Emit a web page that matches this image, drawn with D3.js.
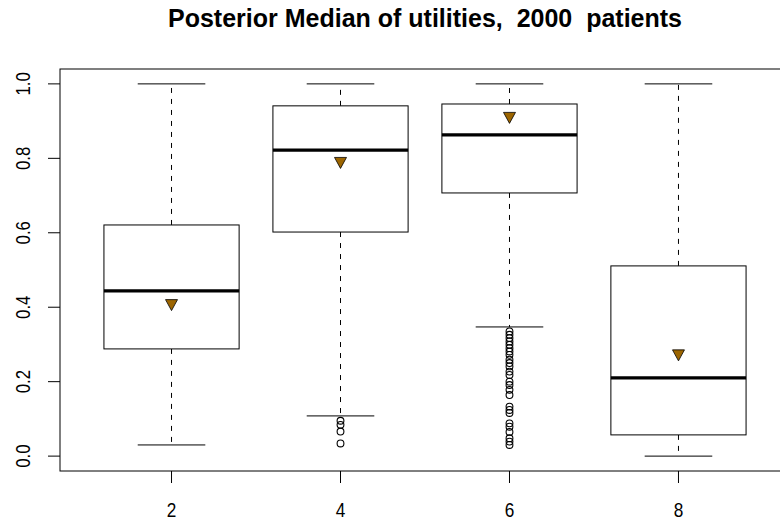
<!DOCTYPE html>
<html>
<head>
<meta charset="utf-8">
<script src="https://cdn.jsdelivr.net/npm/d3@7"></script>
<style>
  html, body { margin: 0; padding: 0; background: #fff; }
  svg { display: block; font-family: "Liberation Sans", Arial, sans-serif; }
</style>
</head>
<body>
<svg id="chart" width="780" height="524"></svg>
<script>
// Box positions along the x axis
const groups = [2, 4, 6, 8];
// Five-number summaries (lower whisker, Q1, median, Q3, upper whisker)
const lowerWhisker = [0.030, 0.108, 0.347, 0.000];
const q1 = [0.288, 0.602, 0.707, 0.057];
const medians = [0.444, 0.822, 0.863, 0.210];
const q3 = [0.621, 0.941, 0.946, 0.511];
const upperWhisker = [1.000, 1.000, 1.000, 1.000];
// Posterior means, drawn as triangles
const means = [0.407, 0.789, 0.910, 0.272];
// Points beyond the whiskers
const outliers4 = [0.095, 0.084, 0.066, 0.034];
const outliers6 = [0.335, 0.326, 0.317, 0.308, 0.299, 0.290, 0.281, 0.272, 0.259, 0.250,
                   0.241, 0.227, 0.218, 0.200, 0.191, 0.178, 0.164, 0.133, 0.124, 0.116,
                   0.088, 0.079, 0.065, 0.048, 0.039, 0.030];
const outlierSets = [[], outliers4, outliers6, []];
const yTicks = [0, 0.2, 0.4, 0.6, 0.8, 1.0];
const xTicks = [2, 4, 6, 8];
const title = "Posterior Median of utilities,  2000  patients";

const svg = d3.select("#chart");
const plotLeft = 60, plotRight = 790, plotTop = 69, plotBottom = 471;

const x = d3.scaleLinear().domain([0.68, 9.32]).range([plotLeft, plotRight]);
const y = d3.scaleLinear().domain([-0.04, 1.04]).range([plotBottom, plotTop]);
const halfBox = 0.8;

const stats = groups.map((g, i) => ({
  g, lo: lowerWhisker[i], q1: q1[i], med: medians[i], q3: q3[i], hi: upperWhisker[i],
  mean: means[i], out: outlierSets[i]
}));

const plot = svg.append("g");

stats.forEach(s => {
  const cx = x(s.g);
  const bx0 = x(s.g - halfBox), bx1 = x(s.g + halfBox);
  const sx0 = x(s.g - halfBox / 2), sx1 = x(s.g + halfBox / 2);
  const g = plot.append("g");
  // dashed whiskers
  g.append("line").attr("x1", cx).attr("x2", cx).attr("y1", y(s.q3)).attr("y2", y(s.hi))
    .attr("stroke", "#000").attr("stroke-dasharray", "5,6");
  g.append("line").attr("x1", cx).attr("x2", cx).attr("y1", y(s.q1)).attr("y2", y(s.lo))
    .attr("stroke", "#000").attr("stroke-dasharray", "5,6");
  // staples
  g.append("line").attr("x1", sx0).attr("x2", sx1).attr("y1", y(s.hi)).attr("y2", y(s.hi))
    .attr("stroke", "#000");
  g.append("line").attr("x1", sx0).attr("x2", sx1).attr("y1", y(s.lo)).attr("y2", y(s.lo))
    .attr("stroke", "#000");
  // box
  g.append("rect").attr("x", bx0).attr("y", y(s.q3))
    .attr("width", bx1 - bx0).attr("height", y(s.q1) - y(s.q3))
    .attr("fill", "#fff").attr("stroke", "#000");
  // median
  g.append("line").attr("x1", bx0).attr("x2", bx1).attr("y1", y(s.med)).attr("y2", y(s.med))
    .attr("stroke", "#000").attr("stroke-width", 3.2);
  // outliers
  g.selectAll("circle").data(s.out).join("circle")
    .attr("cx", cx).attr("cy", d => y(d)).attr("r", 3.4)
    .attr("fill", "none").attr("stroke", "#000").attr("stroke-width", 1.1);
  // mean triangle (pointing down)
  const my = y(s.mean);
  g.append("path")
    .attr("d", `M${cx - 6},${my - 5} L${cx + 6},${my - 5} L${cx},${my + 6} Z`)
    .attr("fill", "#9c6500").attr("stroke", "#000").attr("stroke-width", 0.8);
});

// frame
svg.append("rect").attr("x", plotLeft).attr("y", plotTop)
  .attr("width", plotRight - plotLeft).attr("height", plotBottom - plotTop)
  .attr("fill", "none").attr("stroke", "#000");

// y axis (labels rotated, slightly condensed)
const yAxis = svg.append("g");
yTicks.forEach(t => {
  yAxis.append("line").attr("x1", plotLeft - 12).attr("x2", plotLeft).attr("y1", y(t)).attr("y2", y(t))
    .attr("stroke", "#000");
  yAxis.append("text")
    .attr("transform", `translate(${30},${y(t)}) rotate(-90) scale(0.8,1)`)
    .attr("text-anchor", "middle").attr("font-size", 21).attr("fill", "#000")
    .text(d3.format(".1f")(t));
});

// x axis
const xAxis = svg.append("g");
xTicks.forEach(t => {
  xAxis.append("line").attr("x1", x(t)).attr("x2", x(t)).attr("y1", plotBottom).attr("y2", plotBottom + 12)
    .attr("stroke", "#000");
  xAxis.append("text")
    .attr("transform", `translate(${x(t)},${517}) scale(0.82,1)`)
    .attr("text-anchor", "middle").attr("font-size", 21).attr("fill", "#000")
    .text(t);
});

// title
svg.append("text").attr("x", (plotLeft + plotRight) / 2).attr("y", 27)
  .attr("text-anchor", "middle").attr("font-size", 25).attr("font-weight", "bold")
  .style("white-space", "pre").attr("fill", "#000")
  .text(title);
</script>
</body>
</html>
